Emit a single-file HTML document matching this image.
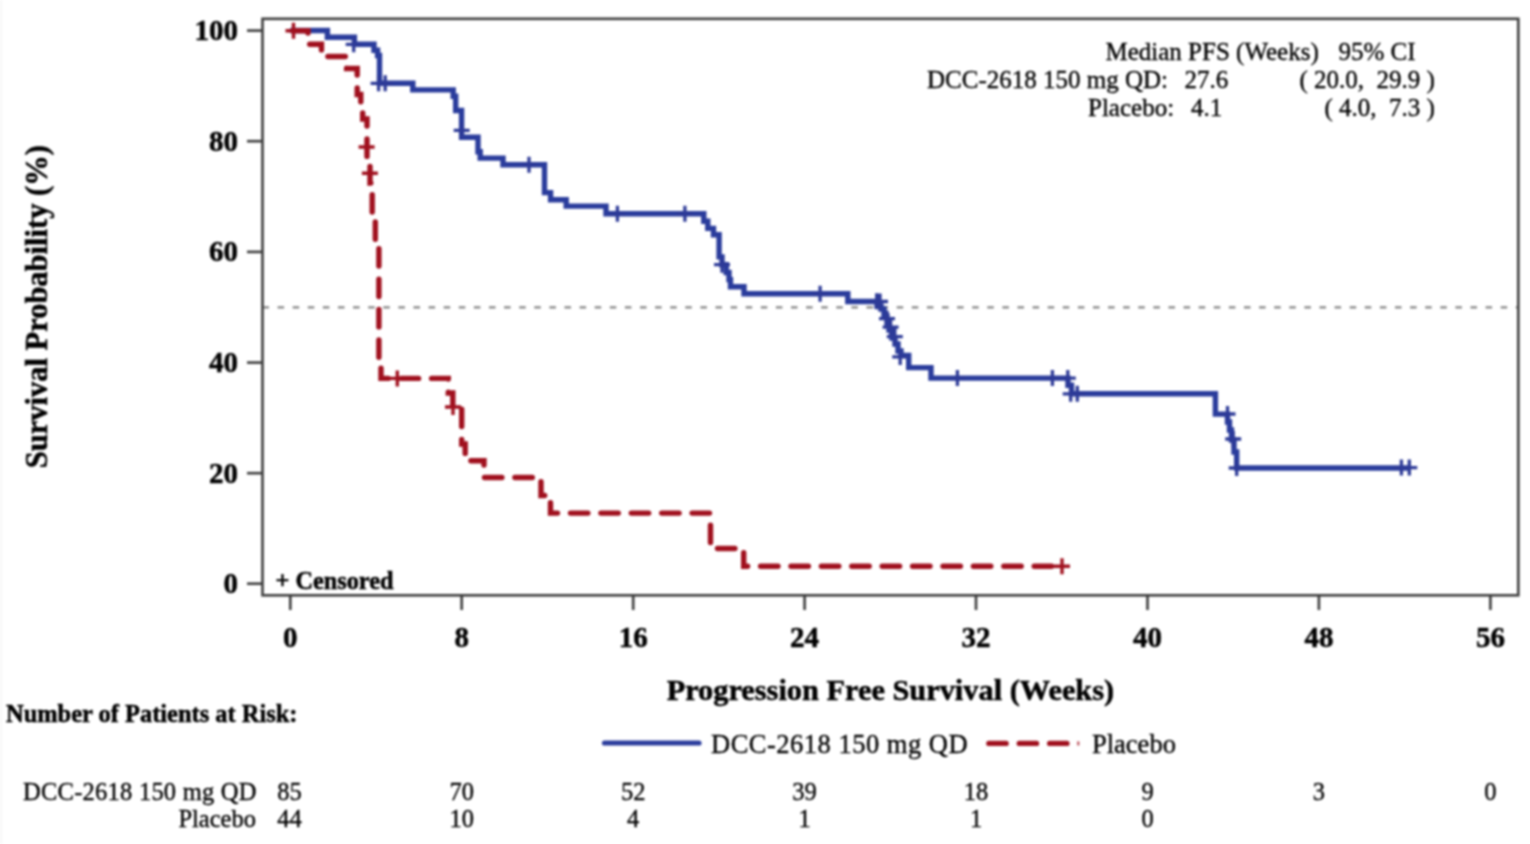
<!DOCTYPE html>
<html><head><meta charset="utf-8">
<style>
html,body{margin:0;padding:0;background:#fff;}
body{width:1530px;height:844px;overflow:hidden;position:relative;}
svg{position:absolute;left:0;top:0;filter:blur(1px);}
text{font-family:"Liberation Serif","Times New Roman",serif;white-space:pre;}
.b{font-weight:bold;fill:#000;stroke:#000;stroke-width:0.5px;}
.r{fill:#000;stroke:#000;stroke-width:0.35px;}
</style></head><body>
<svg width="1530" height="844" viewBox="0 0 1530 844">
<rect x="0" y="0" width="1.6" height="844" fill="#f3f3f3"/>
<!-- reference line 50% -->
<line x1="262.5" y1="307.3" x2="1517.5" y2="307.3" stroke="#858585" stroke-width="2.2" stroke-dasharray="6.5 8.6"/>
<!-- frame -->
<rect x="262.5" y="18.8" width="1255.8" height="576.5" fill="none" stroke="#3c3c3c" stroke-width="2.6"/>
<!-- y ticks -->
<g stroke="#3c3c3c" stroke-width="2.6">
<line x1="247" y1="30.6" x2="262.5" y2="30.6"/>
<line x1="247" y1="141.2" x2="262.5" y2="141.2"/>
<line x1="247" y1="251.9" x2="262.5" y2="251.9"/>
<line x1="247" y1="362.6" x2="262.5" y2="362.6"/>
<line x1="247" y1="473.2" x2="262.5" y2="473.2"/>
<line x1="247" y1="583.7" x2="262.5" y2="583.7"/>
<line x1="290.3" y1="595.3" x2="290.3" y2="610"/>
<line x1="461.7" y1="595.3" x2="461.7" y2="610"/>
<line x1="633.2" y1="595.3" x2="633.2" y2="610"/>
<line x1="804.6" y1="595.3" x2="804.6" y2="610"/>
<line x1="976.0" y1="595.3" x2="976.0" y2="610"/>
<line x1="1147.5" y1="595.3" x2="1147.5" y2="610"/>
<line x1="1318.9" y1="595.3" x2="1318.9" y2="610"/>
<line x1="1490.4" y1="595.3" x2="1490.4" y2="610"/>
</g>
<!-- y tick labels -->
<g class="b" font-size="29" text-anchor="end">
<text x="238" y="40">100</text>
<text x="238" y="150.6">80</text>
<text x="238" y="261.3">60</text>
<text x="238" y="372">40</text>
<text x="238" y="482.6">20</text>
<text x="238" y="593.1">0</text>
</g>
<!-- x tick labels -->
<g class="b" font-size="29" text-anchor="middle">
<text x="290.3" y="647">0</text>
<text x="461.7" y="647">8</text>
<text x="633.2" y="647">16</text>
<text x="804.6" y="647">24</text>
<text x="976.0" y="647">32</text>
<text x="1147.5" y="647">40</text>
<text x="1318.9" y="647">48</text>
<text x="1490.4" y="647">56</text>
</g>
<!-- axis labels -->
<text class="b" font-size="30.5" text-anchor="middle" transform="translate(46.5 306.7) rotate(-90)">Survival Probability (%)</text>
<text class="b" font-size="30.35" text-anchor="middle" x="890.4" y="700.2">Progression Free Survival (Weeks)</text>
<text class="b" font-size="24.45" x="6" y="722.4">Number of Patients at Risk:</text>
<text class="b" font-size="24.3" x="275.5" y="588.8">+ Censored</text>

<!-- inset -->
<g class="r" font-size="25">
<text x="1105.5" y="59.6">Median PFS (Weeks)</text>
<text x="1338.5" y="59.6">95% CI</text>
<text x="927" y="87.7">DCC-2618 150 mg QD:</text>
<text x="1184.5" y="87.7">27.6</text>
<text x="1299.5" y="87.7">( 20.0,  29.9 )</text>
<text x="1088" y="115.8">Placebo:</text>
<text x="1191" y="115.8">4.1</text>
<text x="1324.5" y="115.8">( 4.0,  7.3 )</text>
</g>

<!-- curves -->
<path fill="none" stroke="#2a3c9c" stroke-width="5.4" stroke-linejoin="miter" d="M290.3 30.5 H327.4 V37.2 H354.4 V44.3 H374 V50.3 H377.6 V55.5 H379.5 V83.3 H412.8 V89.9 H453.2 V96.2 H455.7 V110.5 H461.6 V137.3 H478 V151.7 H480.2 V158.1 H503 V164.7 H544.5 V192.6 H550.6 V199.8 H566.2 V206.1 H606 V213.8 H703.8 V221.3 H707.8 V228.4 H713.5 V234.8 H719.1 V256.9 H722 V264.7 H726.2 V272.5 H729 V279.6 H730.5 V286.7 H744 V293.8 H847.8 V301.5 H877 V306 H881 V309 H884 V316 H887 V323 H889 V330 H892 V338 H895 V344 H898 V351 H901 V355.5 H908.7 V367.6 H931 V378.1 H1068 V385.3 H1071.5 V393.7 H1215.4 V414.1 H1227.5 V422 H1229.5 V430 H1231.5 V440 H1234 V452 H1236.7 V468 H1409.3"/>
<path fill="none" stroke="#2d3a97" stroke-width="3.3" d="M345.7 44.3h16M353.7 36.3v16 M370.6 83.3h16M378.6 75.3v16 M377.2 83.3h16M385.2 75.3v16 M453.7 130.4h16M461.7 122.4v16 M521 164.7h16M529 156.7v16 M609.4 213.8h16M617.4 205.8v16 M676.9 213.8h16M684.9 205.8v16 M714 264.7h16M722 256.7v16 M812.1 293.8h16M820.1 285.8v16 M868.7 301.3h16M876.7 293.3v16 M872 301.5h16M880 293.5v16 M879 318.6h16M887 310.6v16 M882.6 327.1h16M890.6 319.1v16 M886.8 336.7h16M894.8 328.7v16 M892.2 356.9h16M900.2 348.9v16 M949.4 378.1h16M957.4 370.1v16 M1044.4 378.1h16M1052.4 370.1v16 M1059.8 378.1h16M1067.8 370.1v16 M1062.7 393.8h16M1070.7 385.8v16 M1069.3 393.8h16M1077.3 385.8v16 M1219.5 414h16M1227.5 406v16 M1225.2 439h16M1233.2 431v16 M1228.7 468h16M1236.7 460v16 M1393.4 467.6h16M1401.4 459.6v16 M1401.3 467.6h16M1409.3 459.6v16"/>
<path fill="none" stroke="#a0101e" stroke-width="5.4" stroke-dasharray="17.4 13" stroke-dashoffset="-2.5" stroke-linecap="round" d="M290.3 30.8 H308 V44.3 H321.5 V56.5 H346.6 V68.5 H357.2 V94.5 H360.8 V107 H362.7 V119 H367 V160 H370 V183 H372.2 V217 H375.3 V244 H378.9 V362 H381 V378.4 H448.3 V393 H452.8 V407 H461.7 V444 H465.2 V460.7 H484 V477.5 H541 V495.5 H550.5 V513.1 H710.5 V548.5 H743.7 V566.2 H1062"/>
<path fill="none" stroke="#a0101e" stroke-width="3.4" d="M285.5 30.8h16M293.5 22.8v16 M358.6 147h16M366.6 139v16 M361.9 173.2h16M369.9 165.2v16 M389.3 378.4h16M397.3 370.4v16 M445 407h16M453 399v16 M1054 566.2h16M1062 558.2v16"/>

<!-- legend -->
<line x1="604.5" y1="743" x2="699" y2="743" stroke="#2a3c9c" stroke-width="5.2" stroke-linecap="round"/>
<text class="r" font-size="26.5" x="711" y="752.6" textLength="256.6" lengthAdjust="spacing">DCC-2618 150 mg QD</text>
<line x1="988.8" y1="743.4" x2="1079.6" y2="743.4" stroke="#a0101e" stroke-width="5.2" stroke-linecap="round" stroke-dasharray="17.4 13"/>
<line x1="1077.3" y1="743.4" x2="1079.3" y2="743.4" stroke="#a0101e" stroke-width="4" stroke-opacity="0.8"/>
<text class="r" font-size="26.5" x="1092" y="752.5">Placebo</text>

<!-- risk table -->
<g class="r" font-size="24.5">
<text x="256.5" y="799.8" text-anchor="end" textLength="233.4" lengthAdjust="spacing">DCC-2618 150 mg QD</text>
<text x="256" y="827" text-anchor="end">Placebo</text>
</g>
<g class="r" font-size="24.5" text-anchor="middle">
<text x="289.5" y="799.8">85</text>
<text x="461.7" y="799.8">70</text>
<text x="633.2" y="799.8">52</text>
<text x="804.6" y="799.8">39</text>
<text x="976.0" y="799.8">18</text>
<text x="1147.5" y="799.8">9</text>
<text x="1318.9" y="799.8">3</text>
<text x="1490.4" y="799.8">0</text>
<text x="289.5" y="827">44</text>
<text x="461.7" y="827">10</text>
<text x="633.2" y="827">4</text>
<text x="804.6" y="827">1</text>
<text x="976.0" y="827">1</text>
<text x="1147.5" y="827">0</text>
</g>
</svg>
</body></html>
